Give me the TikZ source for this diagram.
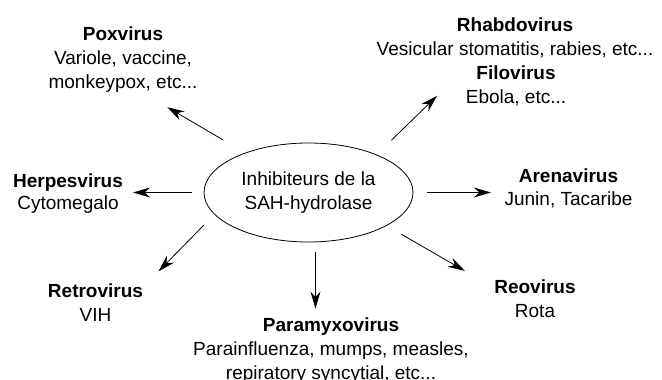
\documentclass[tikz,border=0pt]{standalone}
\usepackage{fontspec}
\setmainfont{Liberation Sans}
\usepackage{tikz}
\usetikzlibrary{arrows.meta, shapes.geometric}

\begin{document}
\begin{tikzpicture}[
    x=1pt, y=1pt,
    virus/.style={align=center, inner sep=2pt, font=\fontsize{19}{24}\selectfont},
    hubstyle/.style={ellipse, draw, line width=0.8pt, minimum width=209pt, minimum height=99pt, inner sep=0pt, outer sep=0pt, align=center, font=\fontsize{19}{23.3}\selectfont},
    arr/.style={-{Stealth[length=17pt, width=10pt]}, line width=0.8pt}
]
\useasboundingbox (0,0) rectangle (662,380);

\node[hubstyle] (hub) at (308.5,187.5) {Inhibiteurs de la\\SAH-hydrolase};

\node[virus] (pox) at (123,320) {\textbf{Poxvirus}\\Variole, vaccine,\\monkeypox, etc...};
\node[virus] (rhabdo) at (515,342) {\textbf{Rhabdovirus}\\Vesicular stomatitis, rabies, etc...};
\node[virus] (filo) at (516,294) {\textbf{Filovirus}\\Ebola, etc...};
\node[virus, font=\fontsize{19}{22}\selectfont] (herpes) at (68,186.5) {\textbf{Herpesvirus}\\Cytomegalo};
\node[virus, font=\fontsize{19}{23.3}\selectfont] (arena) at (568.5,191.6) {\textbf{Arenavirus}\\Junin, Tacaribe};
\node[virus] (retro) at (95.5,77) {\textbf{Retrovirus}\\VIH};
\node[virus] (reo) at (535,81) {\textbf{Reovirus}\\Rota};
\node[virus] (paramyxo) at (331,29) {\textbf{Paramyxovirus}\\Parainfluenza, mumps, measles,\\repiratory syncytial, etc...};

% arrows from the inhibitor to each family
\draw[arr, shorten <=26pt, shorten >=24pt] (hub.148) -- (pox.-56);
\draw[arr, shorten <=21pt, shorten >=37pt] (hub.29) -- (filo.163);
\draw[arr, shorten <=12pt, shorten >=8pt] (hub.west) -- (herpes.east |- hub.west);
\draw[arr, shorten <=14pt, shorten >=11.5pt] (hub.east) -- (arena.west |- hub.east);
\draw[arr, shorten <=15.6pt, shorten >=19pt] (hub.193) -- (retro.20);
\draw[arr, shorten <=10pt, shorten >=7.4pt] (hub.-82) -- (hub.-82 |- paramyxo.north);
\draw[arr, shorten <=17.3pt, shorten >=31.6pt] (hub.-23) -- (reo.164);

\end{tikzpicture}
\end{document}
